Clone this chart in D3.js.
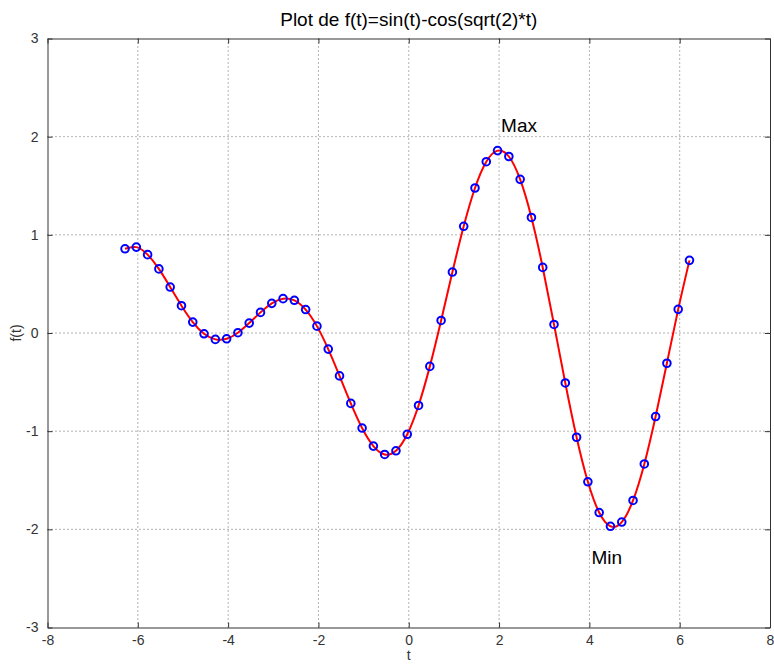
<!DOCTYPE html>
<html>
<head>
<meta charset="utf-8">
<script src="https://cdn.jsdelivr.net/npm/d3@7"></script>
<style>
  body { margin: 0; background: #fff; }
  svg { display: block; }
</style>
</head>
<body>
<div id="chart"></div>
<script>
const width = 774;
const height = 664;
const margin = {top: 38.5, right: 4, bottom: 36.5, left: 47.5};

// samples t = -2pi : 0.25 : 2pi
const tValues = [-6.2832, -6.0332, -5.7832, -5.5332, -5.2832, -5.0332, -4.7832, -4.5332, -4.2832, -4.0332,
  -3.7832, -3.5332, -3.2832, -3.0332, -2.7832, -2.5332, -2.2832, -2.0332, -1.7832, -1.5332,
  -1.2832, -1.0332, -0.7832, -0.5332, -0.2832, -0.0332, 0.2168, 0.4668, 0.7168, 0.9668,
  1.2168, 1.4668, 1.7168, 1.9668, 2.2168, 2.4668, 2.7168, 2.9668, 3.2168, 3.4668,
  3.7168, 3.9668, 4.2168, 4.4668, 4.7168, 4.9668, 5.2168, 5.4668, 5.7168, 5.9668, 6.2168];
const fValues = [0.858, 0.875, 0.798, 0.653, 0.468, 0.278, 0.111, -0.008, -0.065, -0.059,
  0.003, 0.101, 0.210, 0.302, 0.350, 0.333, 0.239, 0.070, -0.164, -0.437,
  -0.717, -0.968, -1.152, -1.237, -1.200, -1.032, -0.738, -0.340, 0.128, 0.621,
  1.087, 1.477, 1.745, 1.858, 1.798, 1.565, 1.177, 0.668, 0.087, -0.509,
  -1.062, -1.516, -1.829, -1.969, -1.926, -1.706, -1.334, -0.851, -0.308, 0.241, 0.740];
const xTicks = [-8, -6, -4, -2, 0, 2, 4, 6, 8];
const yTicks = [-3, -2, -1, 0, 1, 2, 3];
const annotations = [
  {label: 'Max', t: 2, f: 2.1},
  {label: 'Min', t: 4, f: -2.3}
];

const points = tValues.map((t, i) => ({t: t, f: fValues[i]}));

const x = d3.scaleLinear().domain([-8, 8]).range([margin.left, width - margin.right]);
const y = d3.scaleLinear().domain([-3, 3]).range([height - margin.bottom, margin.top]);

const svg = d3.select('#chart').append('svg')
  .attr('width', width)
  .attr('height', height);

const font = 'Liberation Sans, Arial, sans-serif';
const plain = d => String(d);

// grid
svg.append('g')
  .selectAll('line')
  .data(xTicks.slice(1, -1))
  .join('line')
  .attr('x1', d => x(d)).attr('x2', d => x(d))
  .attr('y1', y(3)).attr('y2', y(-3))
  .attr('stroke', '#666')
  .attr('stroke-dasharray', '1 3');
svg.append('g')
  .selectAll('line')
  .data(yTicks.slice(1, -1))
  .join('line')
  .attr('y1', d => y(d)).attr('y2', d => y(d))
  .attr('x1', x(-8)).attr('x2', x(8))
  .attr('stroke', '#666')
  .attr('stroke-dasharray', '1 3');

// axes (ticks inside, box all round)
const xAxisB = d3.axisBottom(x).tickValues(xTicks).tickFormat(plain).tickSizeInner(-5).tickSizeOuter(0).tickPadding(8);
const xAxisT = d3.axisTop(x).tickValues(xTicks).tickSizeInner(-5).tickSizeOuter(0).tickFormat('');
const yAxisL = d3.axisLeft(y).tickValues(yTicks).tickFormat(plain).tickSizeInner(-5).tickSizeOuter(0).tickPadding(9);
const yAxisR = d3.axisRight(y).tickValues(yTicks).tickSizeInner(-5).tickSizeOuter(0).tickFormat('');

function styleAxis(g) {
  g.select('.domain').attr('stroke', '#333').attr('stroke-width', 1);
  g.selectAll('.tick line').attr('stroke', '#333');
  g.selectAll('.tick text')
    .attr('fill', '#333')
    .attr('font-family', font)
    .attr('font-size', '14px');
}

svg.append('g').attr('transform', `translate(0,${y(-3)})`).call(xAxisB).call(styleAxis);
svg.append('g').attr('transform', `translate(0,${y(3)})`).call(xAxisT).call(styleAxis);
svg.append('g').attr('transform', `translate(${x(-8)},0)`).call(yAxisL).call(styleAxis);
svg.append('g').attr('transform', `translate(${x(8)},0)`).call(yAxisR).call(styleAxis);

// curve
const line = d3.line()
  .x(d => x(d.t))
  .y(d => y(d.f))
  .curve(d3.curveNatural);

svg.append('path')
  .datum(points)
  .attr('fill', 'none')
  .attr('stroke', '#ff0000')
  .attr('stroke-width', 2)
  .attr('d', line);

// markers
svg.append('g')
  .selectAll('circle')
  .data(points)
  .join('circle')
  .attr('cx', d => x(d.t))
  .attr('cy', d => y(d.f))
  .attr('r', 3.8)
  .attr('fill', 'none')
  .attr('stroke', '#0000ff')
  .attr('stroke-width', 2);

// annotations
svg.append('g')
  .selectAll('text')
  .data(annotations)
  .join('text')
  .attr('x', d => x(d.t) + 2)
  .attr('y', d => y(d.f))
  .attr('dominant-baseline', 'middle')
  .attr('font-family', font)
  .attr('font-size', '19px')
  .attr('fill', '#000')
  .text(d => d.label);

// title and labels
svg.append('text')
  .attr('x', (x(-8) + x(8)) / 2)
  .attr('y', 26)
  .attr('text-anchor', 'middle')
  .attr('font-family', font)
  .attr('font-size', '19px')
  .attr('fill', '#000')
  .text('Plot de f(t)=sin(t)-cos(sqrt(2)*t)');

svg.append('text')
  .attr('x', (x(-8) + x(8)) / 2)
  .attr('y', 660)
  .attr('text-anchor', 'middle')
  .attr('font-family', font)
  .attr('font-size', '14px')
  .attr('fill', '#333')
  .text('t');

svg.append('text')
  .attr('transform', `translate(21,${y(0)}) rotate(-90)`)
  .attr('text-anchor', 'middle')
  .attr('font-family', font)
  .attr('font-size', '14px')
  .attr('fill', '#333')
  .text('f(t)');
</script>
</body>
</html>
